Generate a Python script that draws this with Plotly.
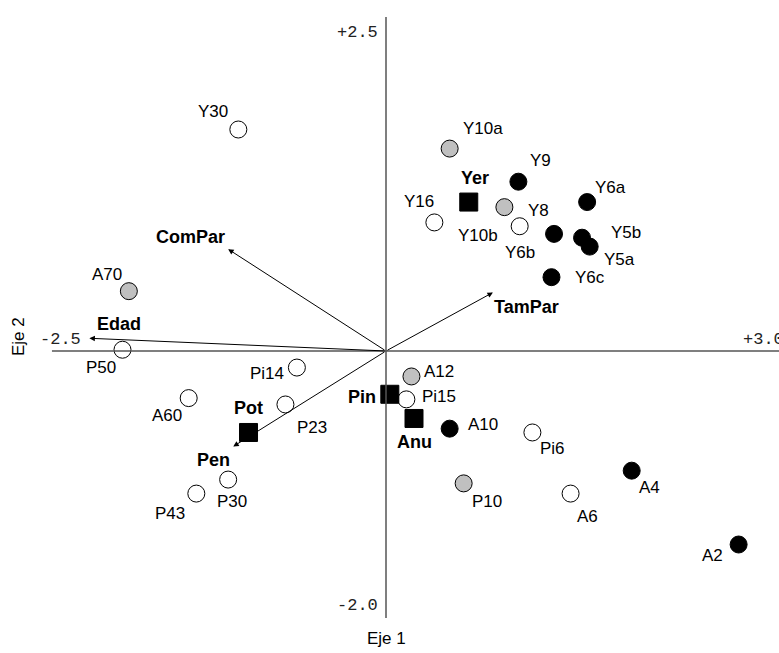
import plotly.graph_objects as go

# Sample scores on the first two axes
sample_names = ["Y30", "Y10a", "Y9", "Y6a", "Y8", "Y16", "Y10b", "Y6b", "Y5b", "Y5a", "Y6c",
                "A70", "P50", "Pi14", "A60", "P23", "P30", "P43",
                "A12", "Pi15", "A10", "Pi6", "P10", "A6", "A4", "A2"]
sample_x = [-1.16, 0.50, 1.04, 1.58, 0.93, 0.38, 1.05, 1.32, 1.54, 1.60, 1.30,
            -2.02, -2.07, -0.70, -1.55, -0.79, -1.24, -1.49,
            0.20, 0.16, 0.50, 1.15, 0.61, 1.45, 1.93, 2.77]
sample_y = [1.74, 1.59, 1.33, 1.17, 1.13, 1.01, 0.98, 0.92, 0.89, 0.82, 0.58,
            0.47, 0.01, -0.13, -0.37, -0.42, -1.01, -1.12,
            -0.20, -0.38, -0.61, -0.64, -1.04, -1.12, -0.94, -1.52]
sample_class = ["open", "gray", "solid", "solid", "gray", "open", "open", "solid", "solid", "solid", "solid",
                "gray", "open", "open", "open", "open", "open", "open",
                "gray", "open", "solid", "open", "gray", "open", "solid", "solid"]

# Group centroids
group_names = ["Yer", "Pot", "Pin", "Anu"]
group_x = [0.65, -1.08, 0.03, 0.22]
group_y = [1.17, -0.64, -0.34, -0.53]

# Variable vectors
var_names = ["ComPar", "TamPar", "Edad", "Pen"]
var_x = [-1.24, 0.84, -2.33, -1.20]
var_y = [0.80, 0.46, 0.10, -0.75]

# Axis end labels
x_end_labels = ["-2.5", "+3.0"]
x_end_values = [-2.5, 3.0]
y_end_labels = ["+2.5", "-2.0"]
y_end_values = [2.5, -2.0]

# Label placement (pixel offsets from each mark)
sample_label_offset = {
    "Y30": (-25, -18), "Y10a": (33, -20), "Y9": (22, -21), "Y6a": (23, -15), "Y8": (34, 3),
    "Y16": (-15, -21), "Y10b": (-42, 9), "Y6b": (-34, 19), "Y5b": (44, -5), "Y5a": (30, 13),
    "Y6c": (39, 0), "A70": (-22, -17), "P50": (-21, 18), "Pi14": (-30, 6), "A60": (-22, 17),
    "P23": (27, 23), "P30": (4, 22), "P43": (-26, 20), "A12": (28, -5), "Pi15": (33, -3),
    "A10": (33, -4), "Pi6": (20, 16), "P10": (23, 18), "A6": (17, 23), "A4": (18, 17),
    "A2": (-26, 11),
}
group_label_offset = {"Yer": (6, -24), "Pot": (0, -24), "Pin": (-28, 3), "Anu": (0, 24)}
var_label_offset = {"ComPar": (-38, -12), "TamPar": (34, 15), "Edad": (30, -14), "Pen": (-20, 14)}

fill_colors = {"open": "white", "gray": "#c0c0c0", "solid": "black"}
LABEL_FONT = dict(family="Liberation Sans, Arial, sans-serif", size=17, color="black")
BOLD_FONT = dict(family="Liberation Sans, Arial, sans-serif", size=18, color="black", weight="bold")
MONO_FONT = dict(family="Liberation Mono, Courier New, monospace", size=17, color="#222222")

W, H = 779, 653
S = 127.3          # pixels per unit (equal aspect)
ox, oy = 386, 351  # pixel position of the origin

fig = go.Figure()

# Axes through the origin
axis_color = "#555555"
fig.add_shape(type="line", x0=-2.624, x1=3.2, y0=0, y1=0, line=dict(color=axis_color, width=1.5))
fig.add_shape(type="line", x0=0, x1=0, y0=-2.097, y1=2.624, line=dict(color=axis_color, width=1.5))

# Variable arrows
annotations = []
for name, vx, vy in zip(var_names, var_x, var_y):
    annotations.append(dict(x=vx, y=vy, ax=0, ay=0, xref="x", yref="y", axref="x", ayref="y",
                            showarrow=True, arrowhead=2, arrowsize=1.1, arrowwidth=1,
                            arrowcolor="black", text=""))
    dx, dy = var_label_offset[name]
    annotations.append(dict(x=vx, y=vy, xref="x", yref="y", text=name, showarrow=False,
                            xshift=dx, yshift=-dy, font=BOLD_FONT))

# Samples
for cls in ["open", "gray", "solid"]:
    idx = [i for i, c in enumerate(sample_class) if c == cls]
    fig.add_trace(go.Scatter(
        x=[sample_x[i] for i in idx], y=[sample_y[i] for i in idx],
        mode="markers", hoverinfo="text", text=[sample_names[i] for i in idx],
        marker=dict(symbol="circle", size=17, color=fill_colors[cls],
                    line=dict(color="black", width=1)),
        showlegend=False))

for name, sx, sy in zip(sample_names, sample_x, sample_y):
    dx, dy = sample_label_offset[name]
    annotations.append(dict(x=sx, y=sy, xref="x", yref="y", text=name, showarrow=False,
                            xshift=dx, yshift=-dy, font=LABEL_FONT))

# Group centroids
fig.add_trace(go.Scatter(
    x=group_x, y=group_y, mode="markers", hoverinfo="text", text=group_names,
    marker=dict(symbol="square", size=18, color="black", line=dict(color="black", width=1)),
    showlegend=False))
for name, gx, gy in zip(group_names, group_x, group_y):
    dx, dy = group_label_offset[name]
    annotations.append(dict(x=gx, y=gy, xref="x", yref="y", text=name, showarrow=False,
                            xshift=dx, yshift=-dy, font=BOLD_FONT))

# Axis end labels
for lab, v, sh in zip(x_end_labels, x_end_values, [-7, -4]):
    annotations.append(dict(x=v, y=0, xref="x", yref="y", text=lab, showarrow=False,
                            xshift=sh, yshift=12, font=MONO_FONT))
for lab, v in zip(y_end_labels, y_end_values):
    annotations.append(dict(x=0, y=v, xref="x", yref="y", text=lab, showarrow=False,
                            xanchor="right", xshift=-6, font=MONO_FONT))

# Axis titles
annotations.append(dict(x=0, y=(oy - 638) / S, xref="x", yref="y", text="Eje 1",
                        showarrow=False, font=LABEL_FONT))
annotations.append(dict(x=(18 - ox) / S, y=(oy - 337) / S, xref="x", yref="y", text="Eje 2",
                        showarrow=False, textangle=-90, font=LABEL_FONT))

fig.update_layout(
    width=W, height=H, margin=dict(l=0, r=0, t=0, b=0),
    paper_bgcolor="white", plot_bgcolor="white",
    xaxis=dict(range=[-ox / S, (W - ox) / S], visible=False, fixedrange=True),
    yaxis=dict(range=[-(H - oy) / S, oy / S], visible=False, fixedrange=True),
    annotations=annotations,
)

fig.write_html("out.html")
